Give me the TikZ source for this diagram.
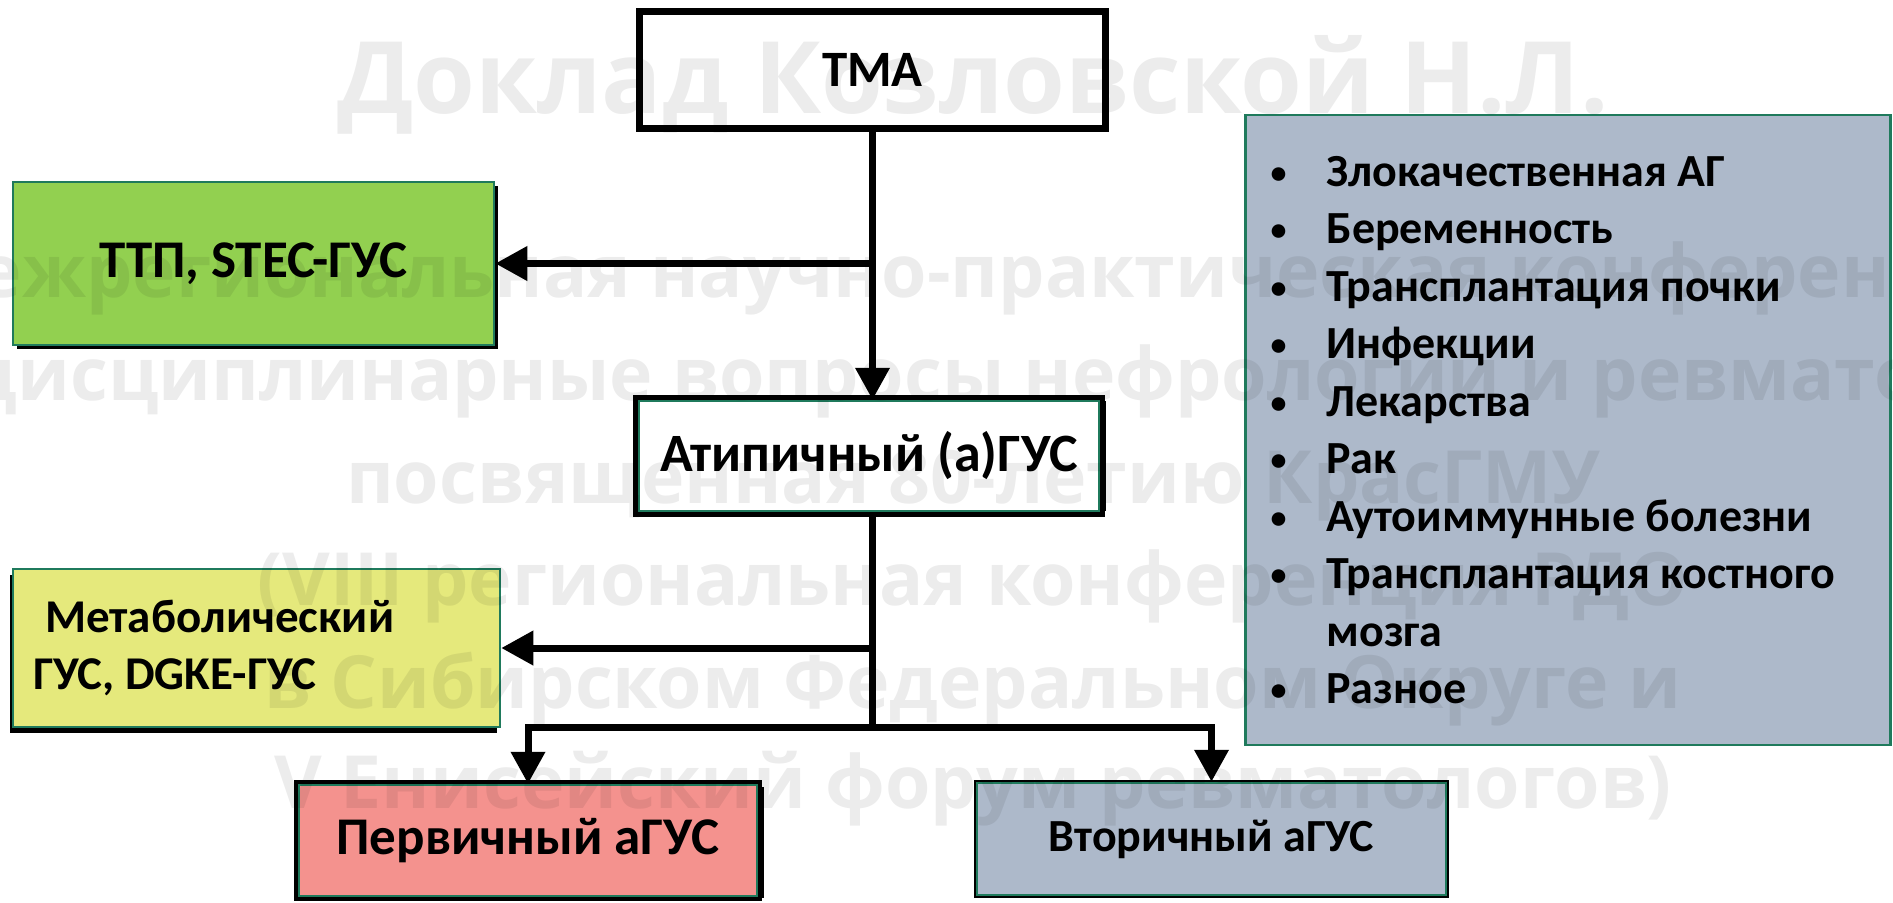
\documentclass[tikz,border=0pt]{standalone}
\usepackage{fontspec}
\setmainfont{Carlito}
\newfontfamily\marcafont{Open Sans}
\usetikzlibrary{arrows.meta,shadows}
\definecolor{verd}{HTML}{92D050}
\definecolor{groc}{HTML}{E5E97C}
\definecolor{rosa}{HTML}{F4928E}
\definecolor{gris}{HTML}{ADB9CA}
\definecolor{vora}{HTML}{1F7A5C}
\tikzset{
  caixa/.style={draw=vora, line width=1.25pt, inner sep=0pt, font=\bfseries},
  marc/.style={preaction={draw=black, line width=#1}},
  ombra/.style 2 args={drop shadow={shadow xshift=#1, shadow yshift=#2, fill=black, opacity=1}},
  linia/.style={line width=3.5pt},
  fletxa/.style={linia, -{Triangle[length=16pt,width=16.5pt]}},
  marca/.style={anchor=base, inner sep=0pt, text=black, text opacity=.075, font=\marcafont\bfseries},
}
\newcommand{\bala}{\makebox[28pt][l]{\raisebox{1.5pt}{\fontsize{16}{16}\selectfont\textbullet}}}
\newcommand{\espais}{\spaceskip=0pt\xspaceskip=0pt\relax}
\frenchspacing

\begin{document}
\begin{tikzpicture}[x=.5pt,y=-.5pt]
  \useasboundingbox (0,0) rectangle (1893,902);

  % caixes de l'esquema
  \node[draw=black, line width=3.5pt, fill=white, inner sep=0pt, minimum width=233pt, minimum height=58.5pt,
        font=\fontsize{25.5}{30}\selectfont\bfseries] (tma) at (872.5,70) {ТМА};
  \node[caixa, fill=verd, ombra={2pt}{-2pt}, minimum width=240.5pt, minimum height=81.5pt,
        font=\fontsize{26.5}{30}\selectfont\bfseries] (ttp) at (253.5,263.5) {ТТП, STEC-ГУС};
  \node[caixa, fill=white, marc=6pt, ombra={3.5pt}{0pt}, minimum width=230pt, minimum height=55pt,
        font=\fontsize{27}{32}\selectfont\bfseries] (atyp) at (869,456) {Атипичный (а)ГУС};
  \node[caixa, fill=groc, ombra={-1.5pt}{-3pt}, minimum height=79pt, text width=223.5pt, inner xsep=10pt,
        align=left, font=\fontsize{23.5}{28.5}\selectfont\bfseries] (meta) at (256.5,648)
    {\espais\hspace*{6pt}Метаболический\\ГУС, DGKE-ГУС};
  \node[caixa, fill=rosa, marc=5pt, ombra={3.5pt}{-1pt}, minimum width=229pt, minimum height=55.5pt,
        font=\fontsize{26.5}{30}\selectfont\bfseries] (prim) at (528,840.5) {Первичный аГУС};
  \node[caixa, fill=gris, marc=3pt, ombra={1.5pt}{-1.5pt}, minimum width=234.5pt, minimum height=56pt,
        font=\fontsize{23}{26}\selectfont\bfseries] (sec) at (1211.5,839) {Вторичный аГУС};

  % llista de causes
  \node[caixa, fill=gris, minimum width=322.5pt, minimum height=315pt, text width=297.5pt, inner xsep=12.5pt,
        align=left, font=\fontsize{23}{28.75}\selectfont\bfseries] (causes) at (1568,430)
    {\espais
     \bala Злокачественная АГ\\
     \bala Беременность\\
     \bala Трансплантация почки\\
     \bala Инфекции\\
     \bala Лекарства\\
     \bala Рак\\
     \bala Аутоиммунные болезни\\
     \bala Трансплантация костного\\
     \makebox[28pt]{}мозга\\
     \bala Разное};

  % connectors
  \coordinate (nus) at (872.5,727);
  \draw[fletxa] (tma.south) -- (tma.south |- atyp.north);
  \draw[fletxa] (tma.south |- ttp.east) -- (ttp.east);
  \draw[linia] (tma.south |- atyp.south) -- (nus);
  \draw[fletxa] (tma.south |- meta.east) -- (meta.east);
  \draw[fletxa] (nus) -| (prim.north);
  \draw[fletxa] (nus) -| (sec.north);

  % filigrana
  \begin{scope}
    \clip (0,0) rectangle (1893,902);
    \node[marca, font=\fontsize{50}{55}\selectfont\marcafont\bfseries] (marca1) at (973,113) {Доклад Козловской Н.Л.};
    \node[marca, font=\fontsize{36.7}{40}\selectfont\marcafont\bfseries] (marca2) at (973,297) {Межрегиональная научно-практическая конференция};
    \node[marca, font=\fontsize{36.7}{40}\selectfont\marcafont\bfseries] (marca3) at (973,400) {Междисциплинарные вопросы нефрологии и ревматологии};
    \node[marca, font=\fontsize{36.7}{40}\selectfont\marcafont\bfseries] (marca4) at (973,503) {посвященная 80-летию КрасГМУ};
    \node[marca, font=\fontsize{36.7}{40}\selectfont\marcafont\bfseries] (marca5) at (973,605) {(VIII региональная конференция РДО};
    \node[marca, font=\fontsize{36.7}{40}\selectfont\marcafont\bfseries] (marca6) at (973,708) {в Сибирском Федеральном Округе и};
    \node[marca, font=\fontsize{36.7}{40}\selectfont\marcafont\bfseries] (marca7) at (973,808) {V Енисейский форум ревматологов)};
  \end{scope}
\end{tikzpicture}
\end{document}
